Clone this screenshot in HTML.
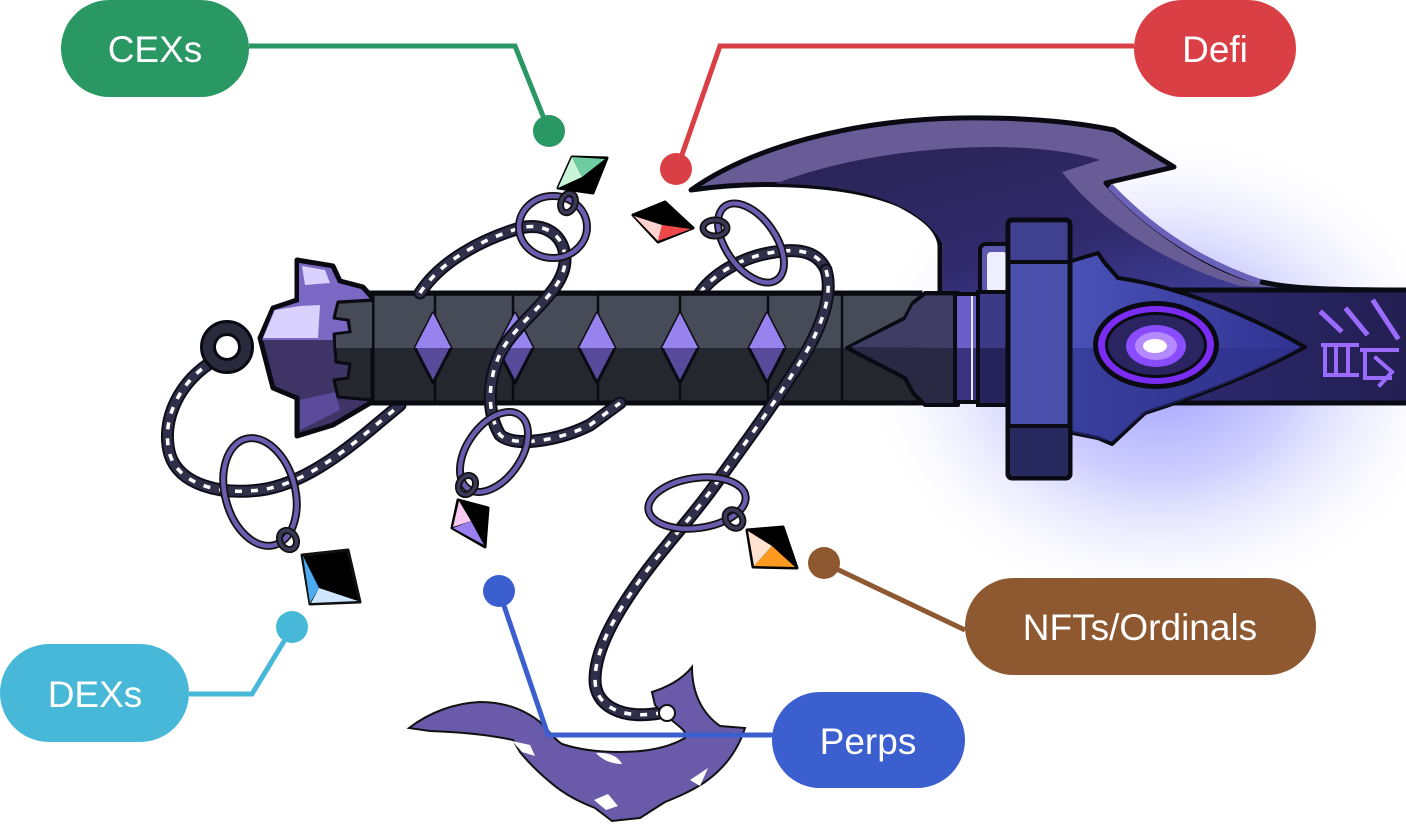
<!DOCTYPE html>
<html><head><meta charset="utf-8"><style>
html,body{margin:0;padding:0;background:#fff;}
svg{display:block}
.ch1{fill:none;stroke:#0e0e1a;stroke-width:13;stroke-linecap:round;stroke-linejoin:round}
.ch2{fill:none;stroke:#2f2f4a;stroke-width:9;stroke-linecap:round;stroke-linejoin:round}
.ch3{fill:none;stroke:#fff;stroke-width:3.5;stroke-dasharray:7 9}
.r1{fill:none;stroke:#111;stroke-width:8}
.r2{fill:none;stroke:#6B5CB0;stroke-width:4.5}
.lk1{fill:none;stroke:#111;stroke-width:7}
.lk2{fill:none;stroke:#3a3a58;stroke-width:3.5}
.lbl{font-family:"Liberation Sans",Arial,sans-serif;font-size:37px;fill:#fff;text-anchor:middle}
</style></head><body>
<svg width="1406" height="827" viewBox="0 0 1406 827" xmlns="http://www.w3.org/2000/svg">
<defs>
<radialGradient id="glow" cx="0.5" cy="0.5" r="0.5">
<stop offset="0" stop-color="#8c8cff" stop-opacity="0.85"/>
<stop offset="0.45" stop-color="#a6a6ff" stop-opacity="0.55"/>
<stop offset="0.75" stop-color="#cfcfff" stop-opacity="0.25"/>
<stop offset="1" stop-color="#ffffff" stop-opacity="0"/>
</radialGradient>
<linearGradient id="bladeIn" x1="0" y1="0" x2="1" y2="1">
<stop offset="0" stop-color="#2a2352"/>
<stop offset="0.55" stop-color="#312b6e"/>
<stop offset="1" stop-color="#4447ac"/>
</linearGradient>
<linearGradient id="eyeP" x1="0" y1="0" x2="1" y2="0">
<stop offset="0" stop-color="#4a52b8"/>
<stop offset="1" stop-color="#2f3290"/>
</linearGradient>
<linearGradient id="shaft" x1="0" y1="0" x2="1" y2="0">
<stop offset="0" stop-color="#302c78"/>
<stop offset="1" stop-color="#231f52"/>
</linearGradient>
</defs>

<!-- glow -->
<ellipse cx="1160" cy="370" rx="300" ry="240" fill="url(#glow)"/>

<!-- blade -->
<path d="M691,190 C750,148 850,120 960,118 C1030,117 1080,123 1114,130 L1174,167 L1106,183 C1140,220 1190,258 1240,276 C1275,288 1310,290 1406,290 L1406,300 L940,300 L940,245 C938,230 925,218 900,205 C850,183 760,180 691,190 Z" fill="#675C96" stroke="#0a0a12" stroke-width="5" stroke-linejoin="round"/>
<path d="M775,184 C840,158 930,146 1000,147 C1050,148 1085,155 1100,160 L1062,172 C1100,220 1160,262 1240,286 L1406,292 L1406,300 L943,300 L943,245 C932,222 905,205 870,195 C840,187 805,184 775,184 Z" fill="url(#bladeIn)"/>
<path d="M1110,186 C1150,228 1200,262 1260,282" fill="none" stroke="#6a62b8" stroke-width="6"/>

<!-- white hole near guard -->
<rect x="980" y="244" width="32" height="52" rx="6" fill="#5c58b0" stroke="#0a0a12" stroke-width="4"/>
<rect x="987" y="252" width="20" height="40" rx="4" fill="#eeeeff"/>

<!-- chains behind handle -->
<g>
<path class="ch1" d="M215,360 C180,380 160,420 170,455 C180,485 220,495 260,490 C300,485 340,455 370,430 L400,405"/>
<path class="ch2" d="M215,360 C180,380 160,420 170,455 C180,485 220,495 260,490 C300,485 340,455 370,430 L400,405"/>
<path class="ch3" d="M215,360 C180,380 160,420 170,455 C180,485 220,495 260,490 C300,485 340,455 370,430 L400,405"/>
<path class="ch1" d="M700,293 C715,272 745,256 775,252 C800,248 818,252 826,270"/>
<path class="ch2" d="M700,293 C715,272 745,256 775,252 C800,248 818,252 826,270"/>
<path class="ch3" d="M700,293 C715,272 745,256 775,252 C800,248 818,252 826,270"/>
</g>

<!-- handle -->
<rect x="340" y="293" width="580" height="110" fill="#25272E" stroke="#0a0a12" stroke-width="5"/>
<rect x="342" y="296" width="576" height="52" fill="#474B57"/>
<g stroke="#0a0a12" stroke-width="2.5">
<line x1="435" y1="295" x2="435" y2="401"/>
<line x1="513" y1="295" x2="513" y2="401"/>
<line x1="598" y1="295" x2="598" y2="401"/>
<line x1="680" y1="295" x2="680" y2="401"/>
<line x1="768" y1="295" x2="768" y2="401"/>
<line x1="842" y1="295" x2="842" y2="401"/>
</g>
<g stroke="#0a0a12" stroke-width="3" stroke-linejoin="round">
<path d="M433,313 L451,348 L433,383 L415,348 Z" fill="#574A9A"/>
<path d="M433,313 L451,348 L415,348 Z" fill="#9683EE" stroke="none"/>
<path d="M515,313 L533,348 L515,383 L497,348 Z" fill="#574A9A"/>
<path d="M515,313 L533,348 L497,348 Z" fill="#9683EE" stroke="none"/>
<path d="M597,313 L615,348 L597,383 L579,348 Z" fill="#574A9A"/>
<path d="M597,313 L615,348 L579,348 Z" fill="#9683EE" stroke="none"/>
<path d="M680,313 L698,348 L680,383 L662,348 Z" fill="#574A9A"/>
<path d="M680,313 L698,348 L662,348 Z" fill="#9683EE" stroke="none"/>
<path d="M767,313 L785,348 L767,383 L749,348 Z" fill="#574A9A"/>
<path d="M767,313 L785,348 L749,348 Z" fill="#9683EE" stroke="none"/>
</g>

<!-- spike piece at right end of handle -->
<path d="M847,348 L905,318 L913,303 L925,293 L958,293 L958,405 L925,405 L913,393 L905,378 Z" fill="#2A2843" stroke="#0a0a12" stroke-width="4" stroke-linejoin="round"/>
<path d="M851,347 L905,320 L913,305 L925,296 L956,296 L956,348 Z" fill="#3F3C66"/>
<!-- band -->
<rect x="955" y="294" width="24" height="108" fill="#3B3380" stroke="#0a0a12" stroke-width="4"/>
<rect x="957" y="296" width="20" height="52" fill="#6B5EC8"/>
<line x1="972" y1="296" x2="972" y2="400" stroke="#e8e8ff" stroke-width="2"/>
<!-- collar -->
<rect x="978" y="292" width="32" height="113" fill="#25235A" stroke="#0a0a12" stroke-width="4"/>
<rect x="980" y="294" width="28" height="54" fill="#3C3A86"/>

<!-- shaft (no left edge) -->
<rect x="1100" y="290" width="306" height="113" fill="url(#shaft)"/>
<line x1="1100" y1="290" x2="1406" y2="290" stroke="#0a0a12" stroke-width="5"/>
<line x1="1100" y1="403" x2="1406" y2="403" stroke="#0a0a12" stroke-width="5"/>

<!-- eye piece -->
<path d="M1068,262 L1098,253 L1104,262 L1118,278 C1170,285 1240,310 1305,347 C1240,382 1170,405 1145,413 L1112,444 L1098,438 L1068,432 Z" fill="url(#eyeP)" stroke="#0a0a12" stroke-width="4" stroke-linejoin="round"/>
<path d="M1070,348 L1300,348 C1240,382 1170,405 1145,413 L1112,442 L1070,432 Z" fill="#2c2f86" opacity="0.55"/>
<ellipse cx="1156" cy="345" rx="63" ry="44" fill="#0a0a12"/>
<ellipse cx="1156" cy="345" rx="58" ry="39" fill="#7A2CF2"/>
<ellipse cx="1156" cy="345" rx="51" ry="33" fill="#0a0a12"/>
<ellipse cx="1156" cy="345" rx="48" ry="30" fill="#2A2560"/>
<ellipse cx="1156" cy="346" rx="30" ry="21" fill="#8A4CFF"/>
<ellipse cx="1156" cy="346" rx="21" ry="14" fill="#B58AFF"/>
<ellipse cx="1155" cy="346" rx="12" ry="7" fill="#ffffff"/>
<!-- runes -->
<g stroke="#9B6BFF" stroke-width="5" fill="none" stroke-linecap="square">
<line x1="1322" y1="313" x2="1340" y2="330"/>
<line x1="1347" y1="310" x2="1366" y2="333"/>
<line x1="1374" y1="302" x2="1397" y2="337"/>
<path d="M1323,345 L1357,345 M1325,345 L1325,375 L1357,375 M1336,348 L1336,372 M1348,348 L1348,372" stroke-width="4"/>
<path d="M1362,350 L1397,350 M1365,350 L1365,378 L1390,378 M1376,358 L1392,372 L1380,385" stroke-width="4"/>
</g>

<!-- guard bar -->
<rect x="1008" y="220" width="62" height="258" rx="4" fill="#4A50AC" stroke="#0a0a12" stroke-width="5"/>
<rect x="1011" y="223" width="56" height="38" fill="#3F4190"/>
<line x1="1010" y1="262" x2="1068" y2="262" stroke="#0a0a12" stroke-width="4"/>
<rect x="1011" y="426" width="56" height="49" fill="#26285E"/>
<line x1="1010" y1="426" x2="1068" y2="426" stroke="#0a0a12" stroke-width="4"/>

<!-- pommel -->
<path d="M297,260 L333,266 L340,281 L363,287 L372,297 L372,402 L333,425 L297,436 L297,398 L273,388 L260,338 L273,308 L297,300 Z" fill="#3F3466" stroke="#0a0a12" stroke-width="5" stroke-linejoin="round"/>
<path d="M299,263 L331,268 L338,283 L361,289 L370,299 L370,340 L262,340 L274,310 L299,302 Z" fill="#7A68C4"/>
<path d="M275,310 L300,306 L320,305 L318,338 L263,338 Z" fill="#D9D2FF"/>
<path d="M302,266 L325,270 L330,283 L305,285 Z" fill="#D9D2FF"/>
<path d="M300,400 L335,392 L340,410 L300,430 Z" fill="#5a4c9a"/>
<!-- handle notches into pommel -->
<path d="M372,300 L338,302 L334,318 L348,320 L350,332 L334,334 L336,362 L350,364 L348,378 L334,380 L338,397 L372,400 Z" fill="#25272E" stroke="#0a0a12" stroke-width="3" stroke-linejoin="round"/>
<path d="M372,302 L339,304 L336,317 L350,319 L352,333 L336,335 L336,348 L372,348 Z" fill="#474B57"/>
<!-- left ring -->
<circle cx="227" cy="347" r="19" fill="none" stroke="#0a0a12" stroke-width="16"/>
<circle cx="227" cy="347" r="19" fill="none" stroke="#2B2A3D" stroke-width="10"/>

<!-- chains in front -->
<g>
<path class="ch1" d="M420,293 C440,262 480,240 520,228 C545,222 565,235 565,260 C565,290 525,315 505,345 C488,372 485,410 500,435 C515,448 560,440 590,425 L620,403"/>
<path class="ch2" d="M420,293 C440,262 480,240 520,228 C545,222 565,235 565,260 C565,290 525,315 505,345 C488,372 485,410 500,435 C515,448 560,440 590,425 L620,403"/>
<path class="ch3" d="M420,293 C440,262 480,240 520,228 C545,222 565,235 565,260 C565,290 525,315 505,345 C488,372 485,410 500,435 C515,448 560,440 590,425 L620,403"/>
<path class="ch1" d="M826,270 C835,300 815,340 795,370 C770,410 740,450 715,485 C690,520 665,545 640,580 C615,615 595,650 595,680 C595,705 620,720 660,713"/>
<path class="ch2" d="M826,270 C835,300 815,340 795,370 C770,410 740,450 715,485 C690,520 665,545 640,580 C615,615 595,650 595,680 C595,705 620,720 660,713"/>
<path class="ch3" d="M826,270 C835,300 815,340 795,370 C770,410 740,450 715,485 C690,520 665,545 640,580 C615,615 595,650 595,680 C595,705 620,720 660,713"/>
</g>

<!-- rings -->
<ellipse class="r1" cx="260" cy="492" rx="35" ry="55" transform="rotate(-15 260 492)"/>
<ellipse class="r2" cx="260" cy="492" rx="35" ry="55" transform="rotate(-15 260 492)"/>
<ellipse class="r1" cx="553" cy="227" rx="34" ry="31"/>
<ellipse class="r2" cx="553" cy="227" rx="34" ry="31"/>
<ellipse class="r1" cx="751" cy="243" rx="25" ry="45" transform="rotate(-35 751 243)"/>
<ellipse class="r2" cx="751" cy="243" rx="25" ry="45" transform="rotate(-35 751 243)"/>
<ellipse class="r1" cx="494" cy="452" rx="27" ry="45" transform="rotate(35 494 452)"/>
<ellipse class="r2" cx="494" cy="452" rx="27" ry="45" transform="rotate(35 494 452)"/>
<ellipse class="r1" cx="697" cy="503" rx="49" ry="25" transform="rotate(-8 697 503)"/>
<ellipse class="r2" cx="697" cy="503" rx="49" ry="25" transform="rotate(-8 697 503)"/>

<!-- small links -->
<ellipse class="lk1" cx="288" cy="540" rx="8" ry="10" transform="rotate(-30 288 540)"/>
<ellipse class="lk2" cx="288" cy="540" rx="8" ry="10" transform="rotate(-30 288 540)"/>
<ellipse class="lk1" cx="568" cy="203" rx="7" ry="10" transform="rotate(20 568 203)"/>
<ellipse class="lk2" cx="568" cy="203" rx="7" ry="10" transform="rotate(20 568 203)"/>
<ellipse class="lk1" cx="715" cy="228" rx="12" ry="8"/>
<ellipse class="lk2" cx="715" cy="228" rx="12" ry="8"/>
<ellipse class="lk1" cx="467" cy="485" rx="8" ry="10" transform="rotate(30 467 485)"/>
<ellipse class="lk2" cx="467" cy="485" rx="8" ry="10" transform="rotate(30 467 485)"/>
<ellipse class="lk1" cx="734" cy="519" rx="8" ry="10" transform="rotate(-40 734 519)"/>
<ellipse class="lk2" cx="734" cy="519" rx="8" ry="10" transform="rotate(-40 734 519)"/>

<!-- gems -->
<g stroke-linejoin="round">
<path d="M558,188 L572,157 L607,158 L593,193 Z" fill="#000" stroke="#000" stroke-width="3"/>
<path d="M558,188 L572,157 L582,177 Z" fill="#C8F5D8"/>
<path d="M572,157 L605,159 L582,177 Z" fill="#6FCCA0"/>

<path d="M633,215 L665,202 L693,228 L658,242 Z" fill="#000" stroke="#000" stroke-width="3"/>
<path d="M634,216 L662,225 L658,241 Z" fill="#FFD2D0"/>
<path d="M662,225 L691,229 L658,241 Z" fill="#F04848"/>

<path d="M747,530 L783,527 L797,568 L753,567 Z" fill="#000" stroke="#000" stroke-width="3"/>
<path d="M748,531 L772,546 L754,566 Z" fill="#FFE2D0"/>
<path d="M772,546 L795,567 L754,566 Z" fill="#FF9A20"/>

<path d="M458,500 L488,508 L485,547 L452,528 Z" fill="#000" stroke="#000" stroke-width="3"/>
<path d="M459,501 L471,521 L453,527 Z" fill="#F8C8F0"/>
<path d="M453,528 L471,521 L484,545 Z" fill="#9880F0"/>

<path d="M302,555 L348,550 L360,602 L310,604 Z" fill="#000" stroke="#111" stroke-width="3"/>
<path d="M303,556 L319,588 L310,603 Z" fill="#4BAAF0"/>
<path d="M319,588 L358,601 L311,603 Z" fill="#CFE6FF"/>
</g>

<!-- bottom hook -->
<path d="M409,728 C430,712 455,703 480,702 C505,702 525,710 540,722 C550,732 555,740 562,744 C580,750 600,752 620,752 C645,752 668,748 685,738 C690,730 670,722 655,705 L652,692 C665,688 682,680 692,667 C692,690 700,712 720,726 L745,728 C738,750 725,768 705,782 C690,792 675,798 665,802 L640,818 L612,821 L595,808 C580,802 565,795 550,782 C538,772 528,762 520,752 L513,740 C490,735 460,732 430,731 Z" fill="#6A5BAA" stroke="#111" stroke-width="2"/>
<path d="M512,741 L530,745 L535,756 L522,752 Z" fill="#fff"/>
<path d="M596,753 C608,752 618,756 622,764 C612,764 602,760 596,753 Z" fill="#fff"/>
<path d="M594,800 L608,794 L618,806 L606,810 Z" fill="#fff"/>
<path d="M690,780 L708,768 L700,786 Z" fill="#fff"/>
<circle cx="667" cy="713" r="8" fill="#fff" stroke="#111" stroke-width="2"/>

<!-- connectors -->
<g fill="none" stroke-width="5" stroke-linejoin="miter">
<path d="M249,46 L515,46 L549,131" stroke="#299863"/>
<path d="M1134,46 L720,46 L677,169" stroke="#D93F44"/>
<path d="M189,694 L252,694 L292,628" stroke="#48B8D8"/>
<path d="M499,591 L548,735 L773,735" stroke="#3C5FCF"/>
<path d="M824,563 L965,630" stroke="#8E5830"/>
</g>
<circle cx="549" cy="131" r="16" fill="#299863"/>
<circle cx="676" cy="169" r="16" fill="#D93F44"/>
<circle cx="292" cy="627" r="16" fill="#48B8D8"/>
<circle cx="499" cy="591" r="16" fill="#3C5FCF"/>
<circle cx="824" cy="563" r="16" fill="#8E5830"/>

<!-- pills -->
<rect x="61" y="0" width="188" height="97" rx="48.5" fill="#299863"/>
<text class="lbl" x="155" y="62">CEXs</text>
<rect x="1134" y="0" width="162" height="97" rx="48.5" fill="#D93F44"/>
<text class="lbl" x="1215" y="62">Defi</text>
<rect x="0" y="644" width="189" height="98" rx="49" fill="#48B8D8"/>
<text class="lbl" x="95" y="707">DEXs</text>
<rect x="772" y="692" width="193" height="96" rx="48" fill="#3C5FCF"/>
<text class="lbl" x="868" y="754">Perps</text>
<rect x="965" y="578" width="351" height="97" rx="48.5" fill="#8E5830"/>
<text class="lbl" x="1140" y="640">NFTs/Ordinals</text>
</svg>
</body></html>
